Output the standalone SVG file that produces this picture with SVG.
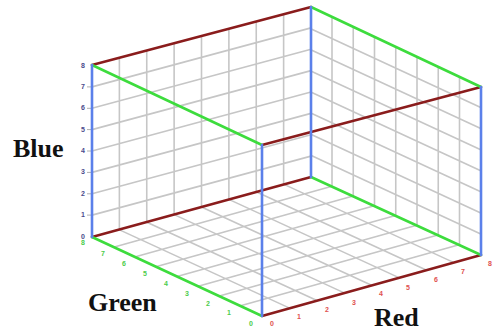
<svg xmlns="http://www.w3.org/2000/svg" xmlns:xlink="http://www.w3.org/1999/xlink" width="494" height="333" viewBox="0 0 494 333">
<style>
.grid{fill:none;stroke:#c6c6c6;stroke-width:1.6;vector-effect:non-scaling-stroke}
.tick{stroke:#b0b0b0;stroke-width:1}
.edge{fill:none;stroke-width:2.6;stroke-linecap:round}
.r{stroke:#8a1c1c}
.g{stroke:#3ddc3d}
.b{stroke:#5b80ea}
.num{font-family:"Liberation Sans",Arial,sans-serif;font-size:7px;font-weight:bold;text-anchor:middle}
.nb{fill:#4a4a8c}
.ng{fill:#4ccc4c}
.nr{fill:#e05050}
.title{font-family:"Liberation Serif","Times New Roman",serif;font-weight:bold;font-size:26px;fill:#111}
</style>
<defs>
<path id="gridpath" class="grid" d="M1 0V8M2 0V8M3 0V8M4 0V8M5 0V8M6 0V8M7 0V8M0 1H8M0 2H8M0 3H8M0 4H8M0 5H8M0 6H8M0 7H8"/>
</defs>
<rect width="494" height="333" fill="#fff"/>
<g id="grids">
<use id="floor-grid" xlink:href="#gridpath" transform="matrix(27.3125 -7.625 -21.1875 -9.75 261.75 315.5)"/>
<use id="back-left-grid" xlink:href="#gridpath" transform="matrix(27.375 -7.375 0 -21.375 92 236.5)"/>
<use id="back-right-grid" xlink:href="#gridpath" transform="matrix(-21.25 -9.84375 0 -21.09375 480.75 255.125)"/>
</g>
<g id="ticks" class="tick">
<line x1="87" y1="86.9" x2="92" y2="86.9"/>
<line x1="87" y1="108.3" x2="92" y2="108.3"/>
<line x1="87" y1="129.6" x2="92" y2="129.6"/>
<line x1="87" y1="151" x2="92" y2="151"/>
<line x1="87" y1="172.4" x2="92" y2="172.4"/>
<line x1="87" y1="193.8" x2="92" y2="193.8"/>
<line x1="87" y1="215.1" x2="92" y2="215.1"/>
</g>
<g id="connectors">
<g id="red-edges" class="edge r">
<line x1="92" y1="65" x2="311" y2="7"/>
<line x1="262" y1="145" x2="481" y2="87"/>
<line x1="92" y1="237" x2="311" y2="177"/>
<line x1="262" y1="316" x2="481" y2="255"/>
</g>
<g id="green-edges" class="edge g">
<line x1="92" y1="65" x2="262" y2="145"/>
<line x1="311" y1="7" x2="481" y2="87"/>
<line x1="311" y1="177" x2="481" y2="255"/>
<line x1="92" y1="237" x2="262" y2="316"/>
</g>
<g id="blue-edges" class="edge b">
<line x1="92" y1="65" x2="92" y2="237"/>
<line x1="311" y1="7" x2="311" y2="177"/>
<line x1="481" y1="87" x2="481" y2="255"/>
<line x1="262" y1="145" x2="262" y2="316"/>
</g>
</g>
<g id="blue-axis-labels" class="num nb">
<text x="83" y="67.5">8</text>
<text x="83" y="88.5">7</text>
<text x="83" y="110">6</text>
<text x="83" y="131.5">5</text>
<text x="83" y="152.5">4</text>
<text x="83" y="174">3</text>
<text x="83" y="195.5">2</text>
<text x="83" y="216.5">1</text>
<text x="83" y="238.5">0</text>
</g>
<g id="green-axis-labels" class="num ng">
<text x="83" y="244.5">8</text>
<text x="103" y="255.5">7</text>
<text x="124" y="265.5">6</text>
<text x="145" y="275.5">5</text>
<text x="166" y="285.5">4</text>
<text x="187" y="295.5">3</text>
<text x="208" y="305.5">2</text>
<text x="229" y="314.5">1</text>
<text x="251" y="325.5">0</text>
</g>
<g id="red-axis-labels" class="num nr">
<text x="272" y="325.5">0</text>
<text x="299" y="318.5">1</text>
<text x="327" y="311.5">2</text>
<text x="354" y="304.5">3</text>
<text x="381" y="295.5">4</text>
<text x="408" y="289.5">5</text>
<text x="436" y="281.5">6</text>
<text x="463" y="273.5">7</text>
<text x="490" y="265.5">8</text>
</g>
<g id="axis-titles" class="title">
<text id="title-blue" x="13" y="157">Blue</text>
<text id="title-green" x="88" y="311">Green</text>
<text id="title-red" x="374" y="326">Red</text>
</g>
</svg>
